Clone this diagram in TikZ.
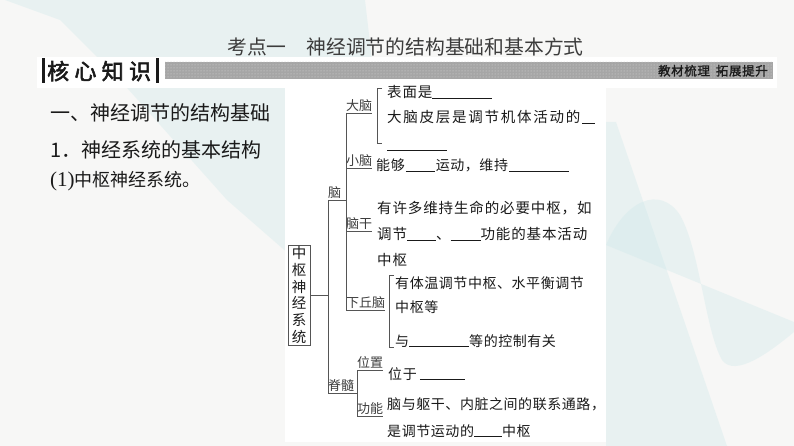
\documentclass[tikz,border=0pt]{standalone}
\usepackage{fontspec}
\setmainfont{Liberation Serif}
\newfontfamily\cjk{Noto Sans CJK SC}
\newfontfamily\cjkA[LetterSpace=4]{Noto Sans CJK SC}
\newfontfamily\cjkB[LetterSpace=6]{Noto Sans CJK SC}
\newfontfamily\cjkC[LetterSpace=12]{Noto Sans CJK SC}
\newfontfamily\cjkbfS[FakeBold=2.5,LetterSpace=24]{Noto Sans CJK SC}
\newfontfamily\cjkbfT[FakeBold=1.5,LetterSpace=5]{Noto Sans CJK SC}
\usetikzlibrary{patterns}
\definecolor{bg}{HTML}{F7F7F6}
\definecolor{teal1}{HTML}{CDE8EA}
\definecolor{txt}{HTML}{1A1A1A}
\definecolor{linec}{HTML}{555555}
\definecolor{barg}{HTML}{A6A6A6}
\newcommand{\blk}[1]{\rule[-0.8pt]{#1pt}{0.7pt}}
\tikzset{
  lab/.style={font=\cjk\fontsize{13}{14}\selectfont, text=txt!85, inner xsep=0pt, inner ysep=1pt, anchor=south west},
  ln/.style={text=txt, inner sep=0pt, anchor=base west},
  fA/.style={font=\cjkA\fontsize{14}{16}\selectfont},
  fB/.style={font=\cjkB\fontsize{14.5}{16}\selectfont},
  fC/.style={font=\cjkC\fontsize{14.5}{16}\selectfont},
  tr/.style={draw=linec, line width=0.6pt},
  deco/.style={fill=teal1, fill opacity=0.35},
}
\begin{document}
\begin{tikzpicture}[x=1pt,y=-1pt]
\useasboundingbox (0,0) rectangle (794,446);
% background
\fill[bg] (0,0) rectangle (794,446);
\fill[deco] (5,0) -- (365,0) -- (372,60) -- (290,255) -- (227,200) -- (120,80) -- (60,20) -- cycle;
\fill[deco] (606,122) -- (616,122) -- (727,446) -- (606,446) -- cycle;
\fill[deco] (606,245) .. controls (625,200) and (660,185) .. (680,215)
  .. controls (700,250) and (705,330) .. (722,360)
  .. controls (735,378) and (770,352) .. (794,332) -- (794,322) -- cycle;
% title
\node[ln, text=txt!85, font=\cjk\fontsize{19.8}{22}\selectfont] (ttl) at (227,55) {考点一　神经调节的结构基础和基本方式};
% banner
\fill[white] (37,57) rectangle (777,88);
\fill[txt] (42,58) rectangle (45,83);
\fill[txt] (156,58) rectangle (159,83);
\node[ln, font=\cjkbfS\fontsize{22}{24}\selectfont] (hx) at (47,79.5) {核心知识};
\fill[barg] (165,62) rectangle (773,79);
\fill[pattern=dots, pattern color=white!55!barg] (165,62) rectangle (773,79);
\node[font=\cjkbfT\fontsize{12.5}{14}\selectfont, text=txt, anchor=base east, inner sep=0pt] (jc) at (768,75.5) {教材梳理\hspace{6pt}拓展提升};
% left text
\node[ln, font=\cjk\fontsize{20}{24}\selectfont] (h1) at (50,121) {一、神经调节的结构基础};
\node[ln, font=\cjk\fontsize{20}{24}\selectfont] (h2) at (50,158) {1．神经系统的基本结构};
\node[ln] (h3) at (50,187) {{\fontsize{21}{24}\selectfont(1)}{\cjk\fontsize{18}{20}\selectfont 中枢神经系统。}};
% tree panel
\fill[white] (285,88) rectangle (606,442);
% root box
\node[draw=linec, line width=0.6pt, minimum width=22pt, minimum height=100pt, inner sep=0pt, align=center, text=txt, font=\cjk\fontsize{14.5}{16.8}\selectfont] (zs) at (299,295) {中\\枢\\神\\经\\系\\统};
% labels
\node[lab] (nao) at (328,200) {脑};
\node[lab] (danao) at (346,113) {大脑};
\node[lab] (xiaonao) at (346,168) {小脑};
\node[lab] (naogan) at (346,231) {脑干};
\node[lab] (xiaqiu) at (346,310) {下丘脑};
\node[lab] (jisui) at (328,393) {脊髓};
\node[lab] (weizhi) at (357,370) {位置};
\node[lab] (gongneng) at (357,416) {功能};
% connectors
\draw[tr] (zs.east) -- (zs.east -| nao.south west);
\draw[tr] (nao.south west) -- (jisui.south west);
\draw[tr] (nao.south west) -- (nao.south west -| danao.south west);
\draw[tr] (danao.south west) -- (xiaqiu.south west);
\draw[tr] (jisui.south west) -- (jisui.south west -| weizhi.south west);
\draw[tr] (weizhi.south west) -- (gongneng.south west);
\foreach \n in {danao,xiaonao,naogan,xiaqiu,weizhi,gongneng}
  \draw[tr] (\n.south west) -- (\n.south east);
% brackets
\draw[tr] (382,88) -- (377,88) -- (377,143) -- (382,143);
\draw[tr] (394,275) -- (389,275) -- (389,347) -- (394,347);
% texts
\node[ln, fB] (dn1) at (387,98) {表面是\blk{60}};
\node[ln, fC] (dn2) at (387,123) {大脑皮层是调节机体活动的\hspace{2pt}\blk{13}};
\node[ln] (dn3) at (387,150) {\blk{60}};
\node[ln, fA] (xn1) at (376,171) {能够\hspace{1pt}\blk{29}\hspace{1pt}运动，维持\hspace{1pt}\blk{60}};
\node[ln, fB] (ng1) at (377,214) {有许多维持生命的必要中枢，如};
\node[ln, fB] (ng2) at (377,240) {调节\blk{29}、\blk{30}功能的基本活动};
\node[ln, fB] (ng3) at (377,265) {中枢};
\node[ln, fA] (xq1) at (395,288) {有体温调节中枢、水平衡调节};
\node[ln, fA] (xq2) at (395,312) {中枢等};
\node[ln, fA] (xq3) at (395,346) {与\blk{60}等的控制有关};
\node[ln, fA] (wz1) at (388,379) {位于\hspace{3pt}\blk{45}};
\node[ln, fA] (gn1) at (387,409) {脑与躯干、内脏之间的联系通路，};
\node[ln, fA] (gn2) at (387,436) {是调节运动的\blk{28}中枢};
\end{tikzpicture}
\end{document}
